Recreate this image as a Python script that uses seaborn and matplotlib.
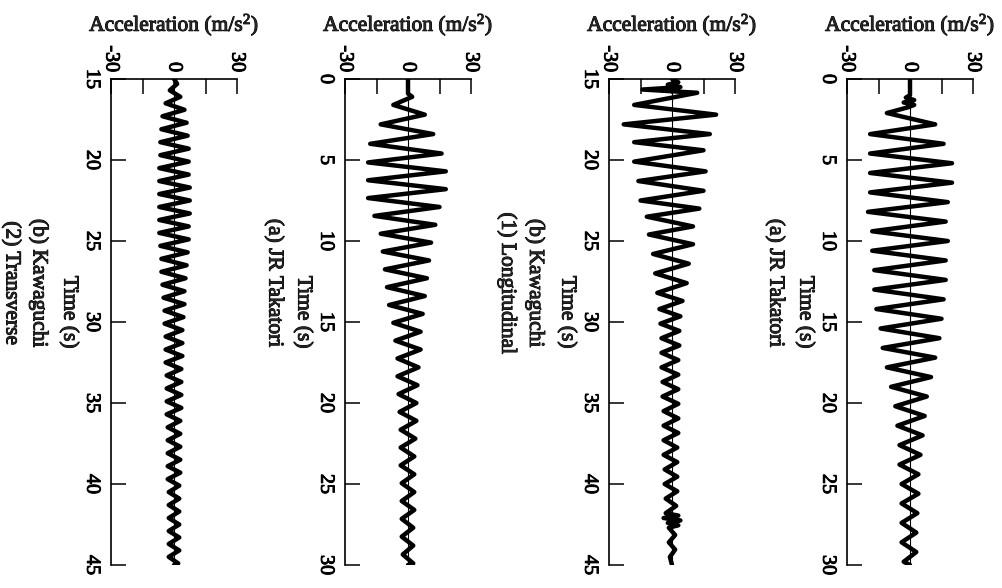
import matplotlib
matplotlib.use("Agg")
import matplotlib.pyplot as plt
import matplotlib.patheffects as pe
import seaborn as sns
import pandas as pd

# ---------------- data (peaks / troughs) ----------------
# Panel (a) JR Takatori, longitudinal, time 0-30 s
p1_time = [0.0, 1.0, 1.15, 1.3, 1.45, 1.6, 1.75,
           2.1, 2.8, 3.4, 4.0, 4.6, 5.2, 5.8, 6.4, 7.0, 7.6,
           8.2, 8.8, 9.4, 10.0, 10.6, 11.2, 11.8, 12.4, 13.0, 13.6,
           14.2, 14.8, 15.4, 16.0, 16.6, 17.2, 17.8, 18.4, 19.0, 19.6,
           20.2, 20.8, 21.4, 22.0, 22.6, 23.2, 23.8, 24.4, 25.0, 25.6,
           26.2, 26.8, 27.4, 28.0, 28.6, 29.2, 29.8,
           30.0]
p1_acc = [0, 0, -2, 2, -3, 2, -1,
          -11, 12, -19, 16, -19, 20, -19, 20, -19, 18,
          -20, 17, -18, 18, -18, 17, -17, 17, -17, 16,
          -16, 15, -14, 14, -13, 12, -11, 10, -9, 8,
          -7, 7, -6, 6, -5, 5, -5, 4, -4, 4,
          -4, 3.5, -4, 3, -4, 3, -3,
          0]

# Panel (b) Kawaguchi, longitudinal, time 15-45 s
p2_time = [15.0, 15.2, 15.35, 15.5, 15.65, 15.85,
           16.6, 17.2, 17.8, 18.4, 18.9, 19.4, 20.1, 20.7, 21.3, 21.9,
           22.5, 23.0, 23.5, 24.1, 24.6, 25.2, 25.8, 26.4, 27.0, 27.6,
           28.2,
           28.7, 29.2, 29.65, 30.1, 30.55, 31.0, 31.45, 31.9, 32.35, 32.8,
           33.25, 33.7, 34.15, 34.6, 35.05, 35.5, 35.95, 36.4, 36.85, 37.3,
           37.75, 38.2, 38.65, 39.1, 39.55, 40.0, 40.45, 40.9, 41.35, 41.8,
           41.95, 42.1, 42.25, 42.4, 42.55, 42.7,
           43.15, 43.6, 44.05, 44.5,
           45.0]
p2_acc = [0, 3, -2, 4, -14, 12,
          -18, 21, -23, 18, -18, 15, -18, 16, -16, 15,
          -15, 13, -12, 10, -11, 10, -9, 8, -8, 7,
          -7,
          5, -6, 4, -5.5, 3.5, -5, 3.5, -5, 3, -5,
          3, -4.5, 3, -4.5, 3, -4, 3, -4, 3, -4,
          2.5, -4, 2.5, -3.5, 2.5, -3.5, 2.5, -3, 2, -3,
          3, -4, 4, -2, 3, -1.5,
          1.5, -1.5, 1.5, -1,
          0]

# Panel (a) JR Takatori, transverse, time 0-30 s
p3_time = [0.0, 0.9, 1.1,
           1.6, 2.2, 2.8, 3.4, 4.0, 4.6,
           5.15, 5.7, 6.25, 6.8, 7.35, 7.9, 8.45, 9.0, 9.55, 10.1,
           10.65, 11.2, 11.75, 12.3, 12.85, 13.4, 13.95, 14.5, 15.05, 15.6,
           16.15, 16.7, 17.25, 17.8, 18.35, 18.9, 19.45, 20.0, 20.55, 21.1,
           21.65, 22.2, 22.75, 23.3, 23.85, 24.4, 24.95, 25.5, 26.05, 26.6,
           27.15, 27.7, 28.25, 28.8, 29.35, 29.9,
           30.0]
p3_acc = [0, 0, 2,
          -7, 8, -13, 12, -18, 16,
          -19, 18, -19, 18, -19, 15, -16, 13, -13, 11,
          -12, 10, -11, 9, -10, 8, -9, 7, -7, 6,
          -6, 6, -5, 5, -5, 4.5, -4.5, 4, -4, 4,
          -3.5, 3.5, -3.5, 3, -3.5, 3, -3, 3, -3, 3,
          -3, 2.5, -3, 2.5, -2.5, 2.5,
          0]

# Panel (b) Kawaguchi, transverse, time 15-45 s
p4_time = [15.0,
           15.3, 15.7, 16.1, 16.5, 16.9, 17.3, 17.7, 18.1, 18.5, 18.9,
           19.3, 19.7, 20.1, 20.5, 20.9, 21.3, 21.7, 22.1, 22.5, 22.9,
           23.3, 23.7, 24.1, 24.5, 24.9, 25.3, 25.7, 26.1, 26.5, 26.9,
           27.3, 27.7, 28.1, 28.5, 28.9, 29.3, 29.7, 30.1, 30.5, 30.9,
           31.3, 31.7, 32.1, 32.5, 32.9, 33.3, 33.7, 34.1, 34.5, 34.9,
           35.3, 35.7, 36.1, 36.5, 36.9, 37.3, 37.7, 38.1, 38.5, 38.9,
           39.3, 39.7, 40.1, 40.5, 40.9, 41.3, 41.7, 42.1, 42.5, 42.9,
           43.3, 43.7, 44.1, 44.5, 44.9,
           45.0]
p4_acc = [0,
          1.5, -2, 3, -4, 5, -5.5, 6, -6, 6.5, -6.5,
          7, -6.5, 7, -7, 7, -7, 7.5, -7, 7.5, -7,
          7.5, -7, 7, -7, 7, -6.5, 6.5, -6, 6, -6,
          5.5, -5.5, 5, -5, 5, -4.5, 4.5, -4.5, 4, -4,
          4, -4, 4, -4, 3.5, -3.5, 3.5, -3.5, 3.5, -3.5,
          3.5, -3.5, 3, -3, 3, -3, 3, -3, 3, -3,
          3, -3, 2.5, -2.5, 2.5, -2.5, 2.5, -2.5, 2.5, -2.5,
          2.5, -2.5, 2.5, -2.5, 2,
          0]

acc_ticks = [-30, -15, 0, 15, 30]
acc_ticklabels = ["-30", "", "0", "", "30"]
time_ticks_a = [0, 5, 10, 15, 20, 25, 30]
time_ticks_b = [15, 20, 25, 30, 35, 40, 45]
acc_label = "Acceleration (m/s$^2$)"
time_label = "Time (s)"
captions = ["(a) JR Takatori", "(b) Kawaguchi\n(1) Longitudinal",
            "(a) JR Takatori", "(b) Kawaguchi\n(2) Transverse"]

# ---------------- figure ----------------
sns.set_style("ticks")
plt.rcParams["font.family"] = ["Liberation Serif", "DejaVu Serif"]
plt.rcParams["mathtext.fontset"] = "custom"
plt.rcParams["mathtext.rm"] = "Liberation Serif"
plt.rcParams["mathtext.it"] = "Liberation Serif:italic"

heavy = [pe.withStroke(linewidth=0.7, foreground="black")]

FW, FH = 1002, 588
fig = plt.figure(figsize=(FW / 100, FH / 100), dpi=100)

panels = [
    dict(t=p1_time, a=p1_acc, x0=847, ticks=time_ticks_a, cap=captions[0], capx=-72),
    dict(t=p2_time, a=p2_acc, x0=609, ticks=time_ticks_b, cap=captions[1], capx=-88),
    dict(t=p3_time, a=p3_acc, x0=345, ticks=time_ticks_a, cap=captions[2], capx=-71),
    dict(t=p4_time, a=p4_acc, x0=111, ticks=time_ticks_b, cap=captions[3], capx=-86),
]
W = 126
TOP, BOT = 79, 565

for p in panels:
    ax = fig.add_axes([p["x0"] / FW, 1 - BOT / FH, W / FW, (BOT - TOP) / FH])
    df = pd.DataFrame({"acc": p["a"], "time": p["t"]})
    sns.lineplot(data=df, x="acc", y="time", sort=False, estimator=None,
                 color="black", lw=3.2, ax=ax,
                 solid_joinstyle="round", solid_capstyle="round")
    ax.axvline(0, color="black", lw=0.8, zorder=0)
    ax.set_xlim(-30, 30)
    ax.set_ylim(p["ticks"][-1], p["ticks"][0])
    for s in ["right", "bottom"]:
        ax.spines[s].set_visible(False)
    for s in ["left", "top"]:
        ax.spines[s].set_linewidth(1.2)
        ax.spines[s].set_color("black")
    ax.xaxis.tick_top()
    ax.set_xticks(acc_ticks)
    ax.set_xticklabels(acc_ticklabels, rotation=270)
    ax.set_yticks(p["ticks"])
    ax.set_yticklabels([str(v) for v in p["ticks"]], rotation=270, va="center")
    ax.tick_params(axis="x", direction="in", length=11, width=1.1, pad=5,
                   labelsize=14.5, colors="black")
    ax.tick_params(axis="y", direction="in", length=11, width=1.1, pad=7,
                   labelsize=14.5, colors="black")
    for lab in ax.get_xticklabels() + ax.get_yticklabels():
        lab.set_path_effects(heavy)
    ax.set_xlabel(acc_label, fontsize=15.5)
    ax.xaxis.set_label_position("top")
    ax.xaxis.set_label_coords(0.5, 1 + (TOP - 25) / (BOT - TOP))
    ax.xaxis.label.set_va("center")
    ax.xaxis.label.set_path_effects(heavy)
    ax.set_ylabel(time_label, rotation=270, fontsize=15.5)
    ax.yaxis.set_label_coords(-42 / W, 0.52)
    ax.yaxis.label.set_va("center")
    ax.yaxis.label.set_ha("center")
    ax.yaxis.label.set_path_effects(heavy)
    ax.text(p["capx"] / W, 0.58, p["cap"], rotation=270, transform=ax.transAxes,
            ha="center", va="center", multialignment="center",
            linespacing=1.55, fontsize=15.5, path_effects=heavy)

fig.savefig("out.png", dpi=100)
